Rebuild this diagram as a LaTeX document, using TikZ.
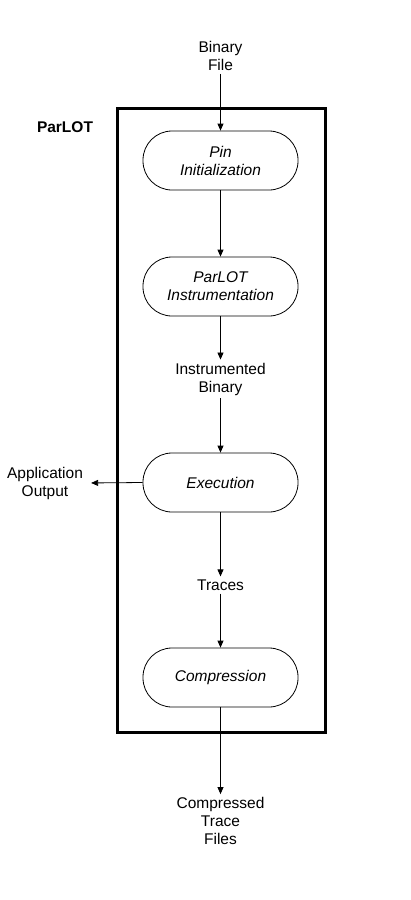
\documentclass[tikz,border=0pt]{standalone}
\usepackage{fontspec}
\setmainfont{Liberation Sans}
\usetikzlibrary{arrows.meta}
\tikzset{
    stage/.style={draw, line width=0.8pt, rounded corners=29pt, minimum width=155pt, minimum height=59pt, align=center, font=\fontsize{15.5}{18}\selectfont\itshape},
    lbl/.style={align=center, inner sep=3pt}
}
\begin{document}
\begin{tikzpicture}[x=1pt, y=-1pt, >={Triangle[length=7pt,width=6pt]}, font=\fontsize{15.5}{18}\selectfont]
\useasboundingbox (0,0) rectangle (410,900);
\draw[line width=3pt](117,108) rectangle (325,732);
\node [font=\fontsize{15.5}{18}\selectfont\bfseries] (parlot) at (65,127) {ParLOT};

\node [lbl] (bin) at (220.5,56) {Binary\\File};
\node [stage] (pin) at (220.5,160.5) {Pin\\Initialization};
\node [stage] (instr) at (220.5,286.5) {ParLOT\\Instrumentation};
\node [lbl] (ibin) at (220.5,379) {Instrumented\\Binary};
\node [stage] (exec) at (220.5,482.5) {Execution};
\node [lbl] (appout) at (45,483) {Application\\Output};
\node [lbl] (traces) at (220.5,585) {Traces};
\node [stage] (compr) at (220.5,677.5) {Compression};
\node [lbl] (ctf) at (220.5,821) {Compressed\\Trace\\Files};

\foreach \a/\b in {bin/pin, pin/instr, instr/ibin, ibin/exec, exec/traces, traces/compr, compr/ctf}
{
    \draw[->, line width=0.8pt](\a.south)--(\b.north);
}
\draw[->, line width=0.8pt, shorten >=5pt](exec.west)--(appout.east);

\end{tikzpicture}
\end{document}
